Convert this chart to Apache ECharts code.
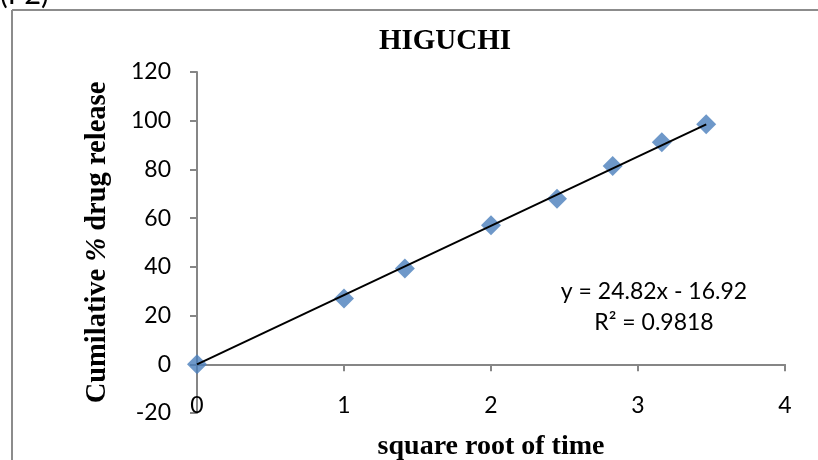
<!DOCTYPE html>
<html>
<head>
<meta charset="utf-8">
<title>HIGUCHI</title>
<script src="https://cdn.jsdelivr.net/npm/echarts@6/dist/echarts.min.js"></script>
<style>
  html, body { margin: 0; padding: 0; background: #ffffff; }
  #chart { width: 818px; height: 460px; }
</style>
</head>
<body>
<div id="chart"></div>
<script>
// Square root of time (x) and cumulative % drug release (y)
const sqrtTime = [0, 1, 1.414, 2, 2.449, 2.828, 3.162, 3.464];
const cumulativeRelease = [0, 27, 39.3, 57.1, 68, 81.4, 91.2, 98.5];

// Axis scales
const xTicks = { min: 0, max: 4, step: 1 };
const yTicks = { min: -20, max: 120, step: 20 };

// Trendline annotation
const equationText = 'y = 24.82x - 16.92';
const rSquaredText = 'R\u00B2 = 0.9818';

const chart = echarts.init(document.getElementById('chart'), null, { renderer: 'canvas' });

const axisGrey = '#868686';
const sansFont = 'Lato, "Open Sans", sans-serif';
const serifFont = '"Liberation Serif", "Times New Roman", serif';

const last = sqrtTime.length - 1;
const trendPoints = [
  [sqrtTime[0], cumulativeRelease[0]],
  [sqrtTime[last], cumulativeRelease[last]]
];

chart.setOption({
  animation: false,
  backgroundColor: '#ffffff',
  title: {
    text: 'HIGUCHI',
    left: 440,
    top: 22,
    textAlign: 'center',
    textStyle: { fontFamily: serifFont, fontWeight: 'bold', fontSize: 29, color: '#000' }
  },
  grid: { left: 197, right: 33, top: 72, bottom: 47, containLabel: false, outerBoundsMode: 'none' },
  xAxis: {
    type: 'value',
    min: xTicks.min,
    max: xTicks.max,
    interval: xTicks.step,
    name: 'square root of time',
    nameLocation: 'middle',
    nameGap: 20,
    nameTextStyle: { fontFamily: serifFont, fontWeight: 'bold', fontSize: 28, color: '#000' },
    axisLine: { show: true, onZero: true, lineStyle: { color: axisGrey, width: 2 } },
    axisTick: { show: true, length: 7, lineStyle: { color: axisGrey, width: 2 } },
    axisLabel: { margin: -19, fontFamily: sansFont, fontSize: 23, color: '#000' },
    splitLine: { show: false }
  },
  yAxis: {
    type: 'value',
    min: yTicks.min,
    max: yTicks.max,
    interval: yTicks.step,
    name: 'Cumilative {pct|%} drug release',
    nameLocation: 'middle',
    nameRotate: 90,
    nameGap: 85,
    nameTextStyle: {
      fontFamily: serifFont, fontWeight: 'bold', fontSize: 28.5, color: '#000',
      rich: {
        pct: { fontFamily: serifFont, fontWeight: 'bold', fontStyle: 'italic', fontSize: 28.5, color: '#000' }
      }
    },
    axisLine: { show: true, onZero: false, lineStyle: { color: axisGrey, width: 2 } },
    axisTick: { show: true, length: 7, lineStyle: { color: axisGrey, width: 2 } },
    axisLabel: { margin: 26, fontFamily: sansFont, fontSize: 23, color: '#000' },
    splitLine: { show: false }
  },
  graphic: [
    // chart frame (top and left edges)
    { type: 'line', shape: { x1: 12, y1: 10, x2: 818, y2: 10 }, style: { stroke: '#8c8c8c', lineWidth: 2 } },
    { type: 'line', shape: { x1: 12, y1: 10, x2: 12, y2: 460 }, style: { stroke: '#8c8c8c', lineWidth: 2 } },
    // figure tag
    { type: 'text', left: 0, top: -20, style: { text: '(F2)', fontFamily: sansFont, fontSize: 29, fill: '#000' } },
    // trendline equation
    { type: 'text', x: 654, y: 292, style: { text: equationText, align: 'center', verticalAlign: 'middle', fontFamily: sansFont, fontSize: 23, fill: '#000' } },
    { type: 'text', x: 654, y: 323, style: { text: rSquaredText, align: 'center', verticalAlign: 'middle', fontFamily: sansFont, fontSize: 23, fill: '#000' } }
  ],
  series: [
    {
      name: 'release',
      type: 'scatter',
      symbol: 'diamond',
      symbolSize: 20,
      itemStyle: { color: '#4A7EBB' },
      data: sqrtTime.map((x, i) => [x, cumulativeRelease[i]]),
      z: 2
    },
    {
      name: 'trend',
      type: 'line',
      data: trendPoints,
      symbol: 'none',
      lineStyle: { color: '#000', width: 2 },
      z: 3
    }
  ]
});
</script>
</body>
</html>
